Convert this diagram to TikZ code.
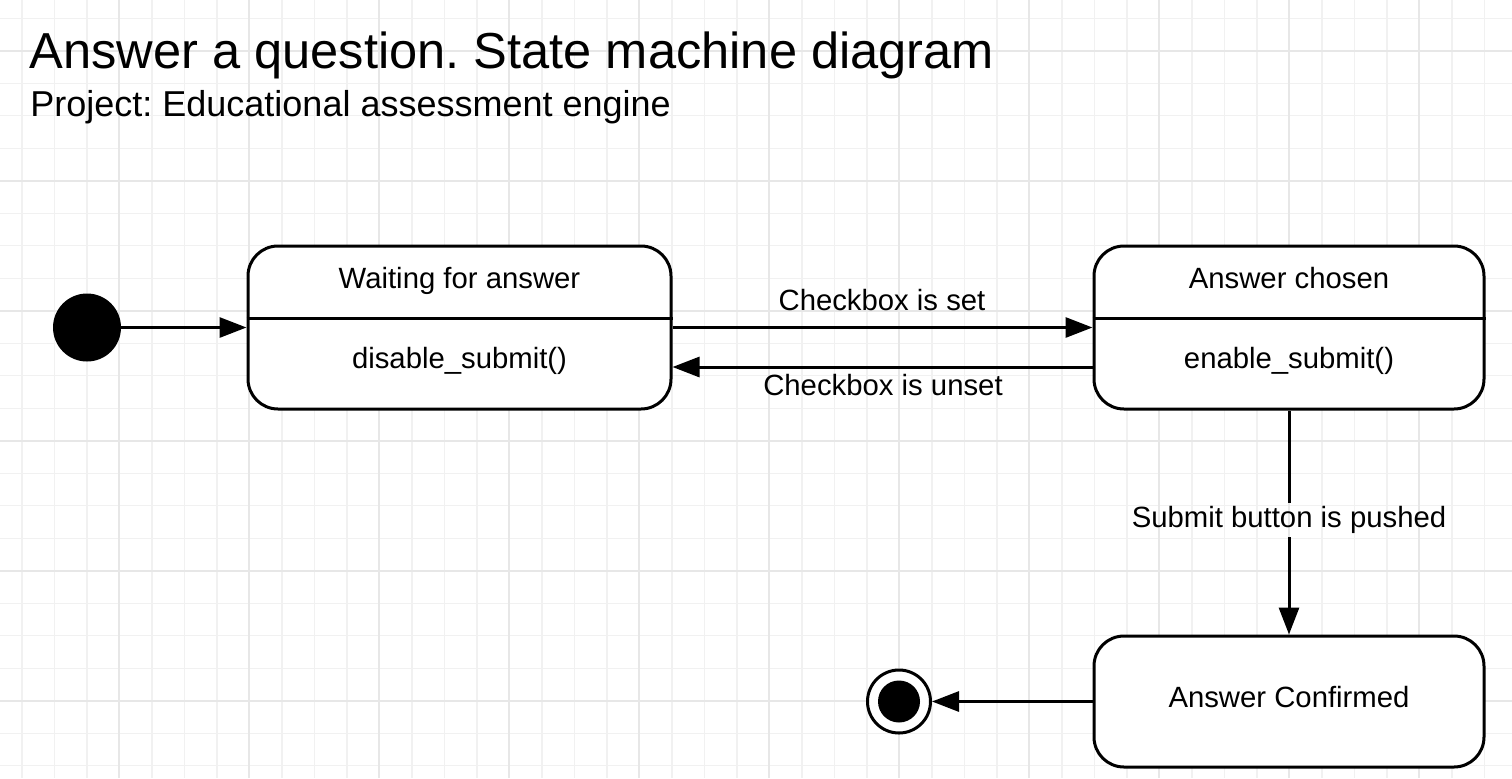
\documentclass[tikz,border=0pt]{standalone}
\usepackage{fontspec}
\setmainfont{Liberation Sans}
\frenchspacing
\usetikzlibrary{arrows.meta}
\definecolor{gridminor}{HTML}{F1F1F1}
\definecolor{gridmajor}{HTML}{E7E7E7}
\tikzset{
  statebox/.style={draw=black, line width=1.5pt, rounded corners=15pt, fill=white, inner sep=0pt},
  stxt/.style={anchor=base, inner sep=0pt, font=\fontsize{14.65}{17}\selectfont},
  lbl/.style={anchor=base, inner sep=1.5pt, font=\fontsize{14.65}{17}\selectfont},
  arr/.style={line width=1.5pt, -{Triangle[length=13.5pt,width=10pt]}},
  plain/.style={line width=1.5pt},
}
\begin{document}
\begin{tikzpicture}[x=0.5pt,y=-0.5pt]
\useasboundingbox (0,0) rectangle (1512,778);
\fill[white] (0,0) rectangle (1512,778);
% grid
\foreach \i in {0,...,46} {
  \pgfmathsetmacro{\gx}{22+32.5*\i}
  \draw[gridminor, line width=0.6pt] (\gx,0) -- (\gx,778);
}
\foreach \i in {0,...,23} {
  \pgfmathsetmacro{\gy}{18.3+32.5*\i}
  \draw[gridminor, line width=0.6pt] (0,\gy) -- (1512,\gy);
}
\foreach \i in {0,...,11} {
  \pgfmathsetmacro{\gx}{119+130*\i}
  \draw[gridmajor, line width=0.6pt] (\gx,0) -- (\gx,778);
}
\foreach \i in {0,...,5} {
  \pgfmathsetmacro{\gy}{51+130*\i}
  \draw[gridmajor, line width=0.6pt] (0,\gy) -- (1512,\gy);
}
% titles
\node[anchor=base west, inner sep=0pt, font=\fontsize{25.3}{30}\selectfont] (title) at (29,68.5) {Answer a question. State machine diagram};
\node[anchor=base west, inner sep=0pt, font=\fontsize{18}{21}\selectfont] (subtitle) at (30,116.7) {Project: Educational assessment engine};
% states
\node[statebox, minimum width=211.5pt, minimum height=81.5pt] (wait) at (459.5,327.5) {};
\node[statebox, minimum width=195pt, minimum height=81.5pt] (chosen) at (1289,327.5) {};
\node[statebox, minimum width=195pt, minimum height=65.5pt] (confirmed) at (1289,701.5) {};
\draw[plain] ([yshift=4.75pt]wait.west) -- ([yshift=4.75pt]wait.east);
\draw[plain] ([yshift=4.75pt]chosen.west) -- ([yshift=4.75pt]chosen.east);
\node[stxt] (waitname) at (459.5,288) {Waiting for answer};
\node[stxt] (waitact) at (459.5,368) {disable\_submit()};
\node[stxt] (chosenname) at (1289,288) {Answer chosen};
\node[stxt] (chosenact) at (1289,368) {enable\_submit()};
\node[stxt] (confname) at (1289,707) {Answer Confirmed};
% pseudo states
\node[circle, fill=black, minimum size=34pt, inner sep=0pt] (init) at (87,327.5) {};
\node[circle, draw=black, line width=1.5pt, fill=white, minimum size=31.5pt, inner sep=0pt] (final) at (899,701.5) {};
\node[circle, fill=black, minimum size=21pt, inner sep=0pt] (finaldot) at (899,701.5) {};
% transitions
\draw[arr] (init.east) -- (wait.west);
\draw[arr] (wait.east) -- (chosen.west);
\node[stxt] (setlbl) at (882,310) {Checkbox is set};
\draw[arr] ([yshift=-19.75pt]chosen.west) -- ([yshift=-19.75pt]wait.east);
\node[stxt] (unsetlbl) at (883,395) {Checkbox is unset};
\node[lbl] (submitlbl) at (1289,527.7) {Submit button is pushed};
\draw[plain] (chosen.south) -- (submitlbl.north);
\draw[arr] (submitlbl.south) -- (confirmed.north);
\draw[arr] (confirmed.west) -- (final.east);
\end{tikzpicture}
\end{document}
